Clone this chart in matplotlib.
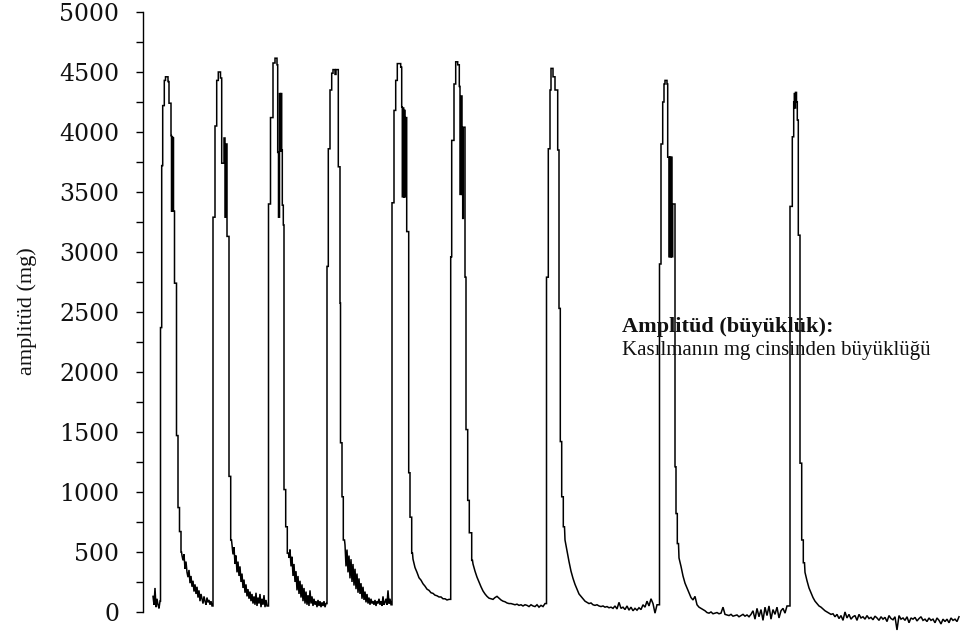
import numpy as np
import matplotlib
matplotlib.use("Agg")
import matplotlib.pyplot as plt
from matplotlib.ticker import MultipleLocator

# ---- data (time in arbitrary units, amplitude in mg) ----
# baseline before first contraction
b0_start, b0_step = 0, 1
b0 = [130, 60, 200, 40, 110, 60, 30, 90]

# contraction shapes: (time, amplitude), drawn as steps
c1 = [(7.5, 2370), (8.7, 3720), (9.7, 4220), (11.3, 4430), (12.5, 4460), (15, 4420), (16, 4240),
      (18, 3970), (18.5, 3340), (19, 3960), (19.5, 3340), (20, 3950), (20.5, 3340), (21.5, 2740),
      (23.5, 1470), (25, 870), (26.5, 670), (28, 500)]
b1_start, b1_step = 29, 1
b1 = [470, 430, 480, 360, 420, 330, 290, 350, 240, 300, 210, 260, 170, 230, 150, 210, 120, 180,
      90, 150, 110, 70, 130, 90, 60, 120, 80, 100, 60, 90, 50]

c2 = [(60, 3290), (62, 4050), (63.7, 4430), (65.3, 4500), (67.5, 4450), (68.7, 3740), (71, 3950),
      (72, 3290), (73, 3900), (74, 3130), (76, 1130), (77.7, 600)]
b2_start, b2_step = 79, 1
b2 = [560, 480, 540, 400, 470, 330, 420, 300, 380, 250, 320, 200, 270, 160, 230, 130, 190, 110,
      170, 90, 150, 70, 130, 60, 160, 50, 120, 70, 150, 40, 110, 60, 140, 40, 100, 50]

c3 = [(115.5, 3400), (117.5, 4120), (120, 4575), (122, 4615), (124, 4560), (124.7, 3830),
      (125.5, 3290), (126.5, 4320), (127.5, 3840), (128, 4320), (128.7, 3850), (129.3, 3390),
      (130.3, 3225), (131, 1020), (132.7, 710), (134.3, 490)]
b3_start, b3_step = 136, 1
b3 = [450, 520, 380, 460, 300, 400, 250, 340, 180, 300, 150, 260, 120, 230, 90, 200, 70, 170,
      60, 140, 50, 180, 70, 130, 50, 110, 60, 90, 40, 100, 50, 90, 40, 80, 50, 90, 40, 70]

c4 = [(174, 2880), (175.3, 3860), (177, 4350), (178.7, 4490), (180, 4520), (182, 4480),
      (183, 4520), (185.3, 3710), (187, 2575), (187.5, 1410), (189, 960), (190.3, 600)]
b4_start, b4_step = 192, 1
b4 = [560, 380, 520, 330, 470, 280, 440, 250, 400, 220, 360, 190, 320, 160, 280, 150, 240, 110,
      210, 100, 170, 80, 150, 70, 120, 60, 110, 70, 90, 60, 100, 50, 90, 70, 110, 60, 90, 50,
      130, 60, 80, 110, 60, 180, 70, 110, 60]

c5 = [(239, 3410), (241, 4180), (242.7, 4430), (244.3, 4570), (247.7, 4540), (248.7, 4210),
      (249.3, 3460), (250, 4200), (250.7, 3460), (251.3, 4180), (252, 3460), (253, 4120),
      (253.7, 3170), (255.7, 1160), (257, 790), (258.7, 490)]
b5_start, b5_step = 260, 2
b5 = [440, 370, 330, 285, 265, 235, 215, 190, 180, 160, 155, 140, 135, 125, 125, 110, 110, 100, 105]

c6 = [(297.7, 2960), (298.7, 3930), (301, 4400), (302.7, 4585), (304.7, 4560), (306.3, 4380),
      (307, 3480), (308, 4300), (309, 3480), (309.7, 3280), (310.3, 4040), (312, 2790),
      (313, 1520), (314.7, 930), (316.3, 660), (318.7, 430)]
b6_start, b6_step = 320, 2
b6 = [400, 340, 290, 250, 210, 175, 150, 130, 115, 110, 105, 120, 130, 115, 100, 90, 85, 75, 70,
      70, 65, 60, 65, 55, 60, 50, 60, 55, 45, 60, 50, 45, 60, 40, 55, 45, 70]

c7 = [(393.5, 2790), (395.3, 3860), (397, 4350), (398, 4530), (400, 4460), (402, 4350),
      (404.7, 3850), (406, 2530), (407.3, 1420), (408.7, 960), (410.3, 710)]
b7_start, b7_step = 412, 2
b7 = [600, 510, 420, 340, 280, 230, 190, 150, 130, 110, 90, 80, 70, 75, 60, 55, 60, 50, 45, 50,
      40, 45, 35, 40, 30, 50, 25, 80, 30, 40, 20, 50, 15, 40, 10, 30, 15, 35, 20, 60, 40, 90, 50,
      110, 70, -10, 60]

c8 = [(506.5, 2900), (508, 3900), (509.7, 4250), (511, 4400), (512, 4430), (514, 4400),
      (514.7, 3790), (516, 2960), (516.7, 3790), (517.5, 2960), (518.2, 3790), (519, 2960),
      (519.7, 3400), (522, 1210), (523, 820), (524.3, 570)]
b8_start, b8_step = 526, 2
b8 = [450, 380, 300, 240, 200, 160, 120, 100, 130, 60, 40, 30, 20, 10, -5, -10, 0, -15, -10, -5,
      -15, -10, 40, -20, -25, -30, -20, -35, -30, -25, -40, -30, -20, -35, -25, -40, -20, 10, -60,
      30, -40, 20, -70, 40, -30, 50, -60, 20, -20, 40, -50, 10, 30, -10, 50]

c9 = [(637, 3380), (639.3, 3960), (640.7, 4250), (641.3, 4320), (642, 4200), (642.5, 4330),
      (643.5, 4250), (644.3, 4100), (645.3, 3140), (647, 1240), (648.7, 600), (650.3, 410)]
b9_start, b9_step = 652, 2
b9 = [330, 260, 200, 160, 120, 90, 70, 50, 40, 25, 10, 0, -10, -20, -15, -40, -20, -55, -30, -70,
      0, -50, -20, -60, -40, -30, -70, -20, -50, -40, -60, -30, -55, -45, -65, -35, -50, -70, -40,
      -60, -45, -80, -30, -55, -65, -40, -150, -30, -60, -50, -70, -40, -90, -50, -60, -45, -75,
      -55, -40, -70, -60, -80, -50, -70, -60, -90, -50, -70, -100, -60, -80, -60, -90, -50, -70,
      -60, -80, -40]

yticks = [0, 500, 1000, 1500, 2000, 2500, 3000, 3500, 4000, 4500, 5000]
ylabel = "amplitüd (mg)"
note_title = "Amplitüd (büyüklük):"
note_body = "Kasılmanın mg cinsinden büyüklüğü"

# ---- assemble trace: baselines linear, contraction shapes as steps ----
baselines = [(b0_start, b0_step, b0), (b1_start, b1_step, b1), (b2_start, b2_step, b2),
             (b3_start, b3_step, b3), (b4_start, b4_step, b4), (b5_start, b5_step, b5),
             (b6_start, b6_step, b6), (b7_start, b7_step, b7), (b8_start, b8_step, b8),
             (b9_start, b9_step, b9)]
shapes = [c1, c2, c3, c4, c5, c6, c7, c8, c9]

t_all, v_all = [], []
for i, (s, st, vals) in enumerate(baselines):
    t_all.extend(list(s + st * np.arange(len(vals))))
    v_all.extend(vals)
    if i < len(shapes):
        for (t, v) in shapes[i]:
            # vertical edge: hold previous level until t, then jump
            t_all.append(t)
            v_all.append(v_all[-1])
            t_all.append(t)
            v_all.append(v)
        # hold the last shape level until the next baseline sample
        nxt = baselines[i + 1][0]
        t_all.append(nxt - 0.5)
        v_all.append(v_all[-1])
t_all = np.array(t_all, dtype=float)
v_all = np.array(v_all, dtype=float)

# ---- figure ----
W, H = 963, 633
fig = plt.figure(figsize=(W / 100, H / 100), dpi=100)
ax_left, ax_right = 143, 962
ax_top, ax_bottom = 12, 632
ax = fig.add_axes([ax_left / W, 1 - ax_bottom / H, (ax_right - ax_left) / W, (ax_bottom - ax_top) / H])

ax.plot(t_all, v_all, color="black", lw=1.1, solid_joinstyle="miter")

ax.set_xlim(-10, 809)
ax.set_ylim(-167, 5000)

for s in ["top", "right", "bottom"]:
    ax.spines[s].set_visible(False)
ax.spines["left"].set_bounds(0, 5000)
ax.spines["left"].set_linewidth(1.0)
ax.set_xticks([])
ax.set_yticks(yticks)
ax.yaxis.set_minor_locator(MultipleLocator(250))
ax.tick_params(axis="y", which="both", direction="out", length=5, width=1.0, pad=12)
for lab in ax.get_yticklabels():
    lab.set_fontfamily("DejaVu Serif")
    lab.set_fontsize(17)
    lab.set_color("#111111")

fig.text(27 / W, 1 - 311 / H, ylabel, rotation=90, ha="center", va="center",
         fontsize=16, family="Liberation Serif", color="#111111")
fig.text(622 / W, 1 - 327 / H, note_title, ha="left", va="center",
         fontsize=16, family="Liberation Serif", fontweight="bold", color="#111111")
fig.text(622 / W, 1 - 350 / H, note_body, ha="left", va="center",
         fontsize=15, family="Liberation Serif", color="#111111")

fig.savefig("out.png", dpi=100)
